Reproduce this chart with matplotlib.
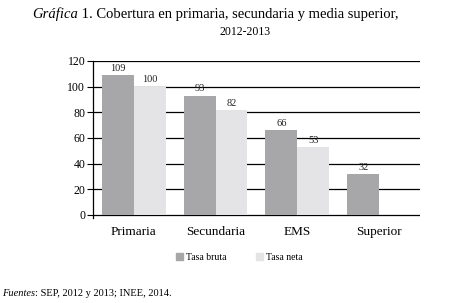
import matplotlib
matplotlib.use("Agg")
import matplotlib.pyplot as plt
import numpy as np
from matplotlib.patches import Patch

plt.rcParams["font.family"] = ["Liberation Serif", "DejaVu Serif"]

# data
categories = ["Primaria", "Secundaria", "EMS", "Superior"]
tasa_bruta = [109, 93, 66, 32]
tasa_neta = [100, 82, 53, np.nan]  # no neta value for Superior
yticks = [0, 20, 40, 60, 80, 100, 120]

DARK = "#a7a7a9"
LIGHT = "#e4e4e6"

fig = plt.figure(figsize=(4.62, 3.03), dpi=100)
ax = fig.add_axes([0.201, 0.280, 0.708, 0.519])

x = np.arange(len(categories))
w = 0.39
b1 = ax.bar(x - w / 2, tasa_bruta, w, color=DARK, zorder=3)
b2 = ax.bar(x + w / 2, tasa_neta, w, color=LIGHT, zorder=3)

for bars, vals in ((b1, tasa_bruta), (b2, tasa_neta)):
    for rect, v in zip(bars, vals):
        if np.isnan(v):
            continue
        ax.annotate(f"{v:.0f}", (rect.get_x() + rect.get_width() / 2, v),
                    xytext=(0, 1.5), textcoords="offset points",
                    ha="center", va="bottom", fontsize=7.5, color="#222222")

ax.set_xlim(-0.5, len(categories) - 0.5)
ax.set_ylim(-2.5, 120)
ax.set_yticks(yticks)
ax.set_xticks(x)
ax.set_xticklabels(categories, fontsize=9.5)
ax.tick_params(axis="x", length=0, pad=6)
ax.tick_params(axis="y", length=4, width=0.8, labelsize=8.5, pad=1.5)

ax.yaxis.grid(True, color="black", linewidth=0.9)
ax.set_axisbelow(True)
for side in ("top", "right", "bottom"):
    ax.spines[side].set_visible(False)
ax.spines["left"].set_linewidth(0.9)

# title with italic first word
t1 = fig.text(0.07, 1 - 18 / 303, "Gráfica", style="italic", fontsize=10.5,
              va="baseline", ha="left")
fig.canvas.draw()
bb = t1.get_window_extent()
fig.text(bb.x1 / fig.dpi / 4.62, 1 - 18 / 303,
         " 1. Cobertura en primaria, secundaria y media superior,",
         fontsize=10.5, va="baseline", ha="left")
fig.text(245 / 462, 1 - 35 / 303, "2012-2013", fontsize=8.5,
         va="baseline", ha="center")

handles = [Patch(color=DARK, label="Tasa bruta"), Patch(color=LIGHT, label="Tasa neta")]
fig.legend(handles=handles, loc="center", bbox_to_anchor=(239 / 462, 1 - 257 / 303),
           ncol=2, frameon=False, fontsize=7, handlelength=0.75, handleheight=0.75,
           handletextpad=0.3, columnspacing=3.0)

f1 = fig.text(2 / 462, 1 - 296 / 303, "Fuentes", style="italic", fontsize=7.5,
              va="baseline", ha="left")
fig.canvas.draw()
bb = f1.get_window_extent()
fig.text(bb.x1 / fig.dpi / 4.62, 1 - 296 / 303, ": SEP, 2012 y 2013; INEE, 2014.",
         fontsize=7.5, va="baseline", ha="left")

fig.savefig("out.png", dpi=100)
